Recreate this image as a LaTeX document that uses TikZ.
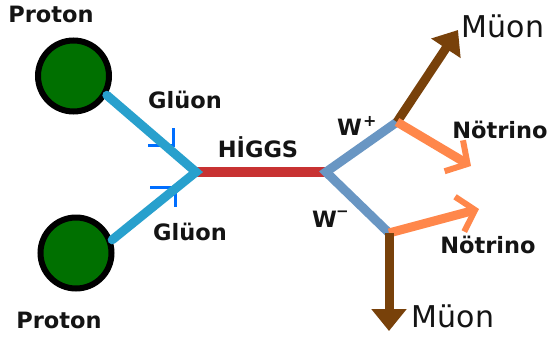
\documentclass[tikz,border=0pt]{standalone}
\usepackage{fontspec}
\setmainfont{DejaVu Sans}
\usetikzlibrary{arrows.meta}

\definecolor{protongreen}{RGB}{0,112,0}
\definecolor{gluonblue}{RGB}{40,160,205}
\definecolor{markblue}{RGB}{0,110,255}
\definecolor{higgsred}{RGB}{200,50,50}
\definecolor{wblue}{RGB}{105,150,195}
\definecolor{muonbrown}{RGB}{120,65,10}
\definecolor{nuorange}{RGB}{255,135,75}
\definecolor{ink}{RGB}{20,20,20}

\begin{document}
\begin{tikzpicture}[x=1pt,y=-1pt,
  lbl/.style={font=\bfseries\fontsize{22.5}{22.5}\selectfont, text=ink, anchor=base, inner sep=0pt},
  muonlbl/.style={font=\fontsize{30}{30}\selectfont, text=ink, anchor=base, inner sep=0pt},
  proton/.style={circle, draw=black, line width=6pt, fill=protongreen, minimum size=71pt, inner sep=0pt},
  gluon/.style={draw=gluonblue, line width=9pt, line cap=round, line join=miter},
  gmark/.style={draw=markblue, line width=3pt},
  higgs/.style={draw=higgsred, line width=10pt},
  wboson/.style={draw=wblue, line width=9pt, line join=miter},
  muon/.style={draw=muonbrown, line width=9pt, -{Triangle[length=22pt,width=34pt]}},
  neutrino/.style={draw=nuorange, line width=9pt, -{Straight Barb[length=16pt,width=36pt,line width=6pt]}}
]
\fill[white] (0,0) rectangle (550,338);
\useasboundingbox (0,0) rectangle (550,338);

% protons
\node[proton] (p1) at (73.5,76) {};
\node[proton] (p2) at (76,253) {};

% vertices and free ends
\coordinate (v1) at (196,172);
\coordinate (v2) at (326,172);
\coordinate (w1) at (397,122);
\coordinate (w2) at (389,233);
\coordinate (mt) at (458,30);
\coordinate (mb) at (389,331);
\coordinate (nt) at (471,166);
\coordinate (nb) at (479,209);
\coordinate (m1) at (173,145);
\coordinate (m2) at (175,187);

% direction marks on the gluons
\draw[gmark] ([shift={(0,-17)}]m1) -- (m1) -- ([shift={(-25,0)}]m1);
\draw[gmark] ([shift={(-25,0)}]m2) -- (m2) -- ([shift={(0,20)}]m2);

% Higgs propagator
\draw[higgs] (v1) -- (v2);

% gluons
\draw[gluon] (p1.-30) -- (v1) -- (p2.20);

% W bosons
\draw[wboson] (w1) -- (v2) -- (w2);

% decay products
\draw[muon] (w1) -- (mt);
\draw[neutrino] (w1) -- (nt);
\draw[neutrino] (w2) -- (nb);
\draw[muon] (w2) -- (mb);

% labels
\node[lbl] (lp1) at (51,22) {Proton};
\node[lbl] (lp2) at (59,328) {Proton};
\node[lbl] (lg1) at (185,108) {Glüon};
\node[lbl] (lg2) at (190,240) {Glüon};
\node[lbl] (lh) at (258,157) {HİGGS};
\node[lbl, anchor=base west] (lwp) at (337,135) {W\kern1pt\raisebox{9pt}{\fontsize{16}{16}\selectfont +}};
\node[lbl, anchor=base west] (lwm) at (312,227) {W\kern-1pt\raisebox{11pt}{\fontsize{15}{15}\selectfont −}};
\node[lbl] (ln1) at (500,138) {Nötrino};
\node[lbl] (ln2) at (488,253) {Nötrino};
\node[muonlbl] (lm1) at (503,37) {Müon};
\node[muonlbl] (lm2) at (453,327) {Müon};
\end{tikzpicture}
\end{document}
